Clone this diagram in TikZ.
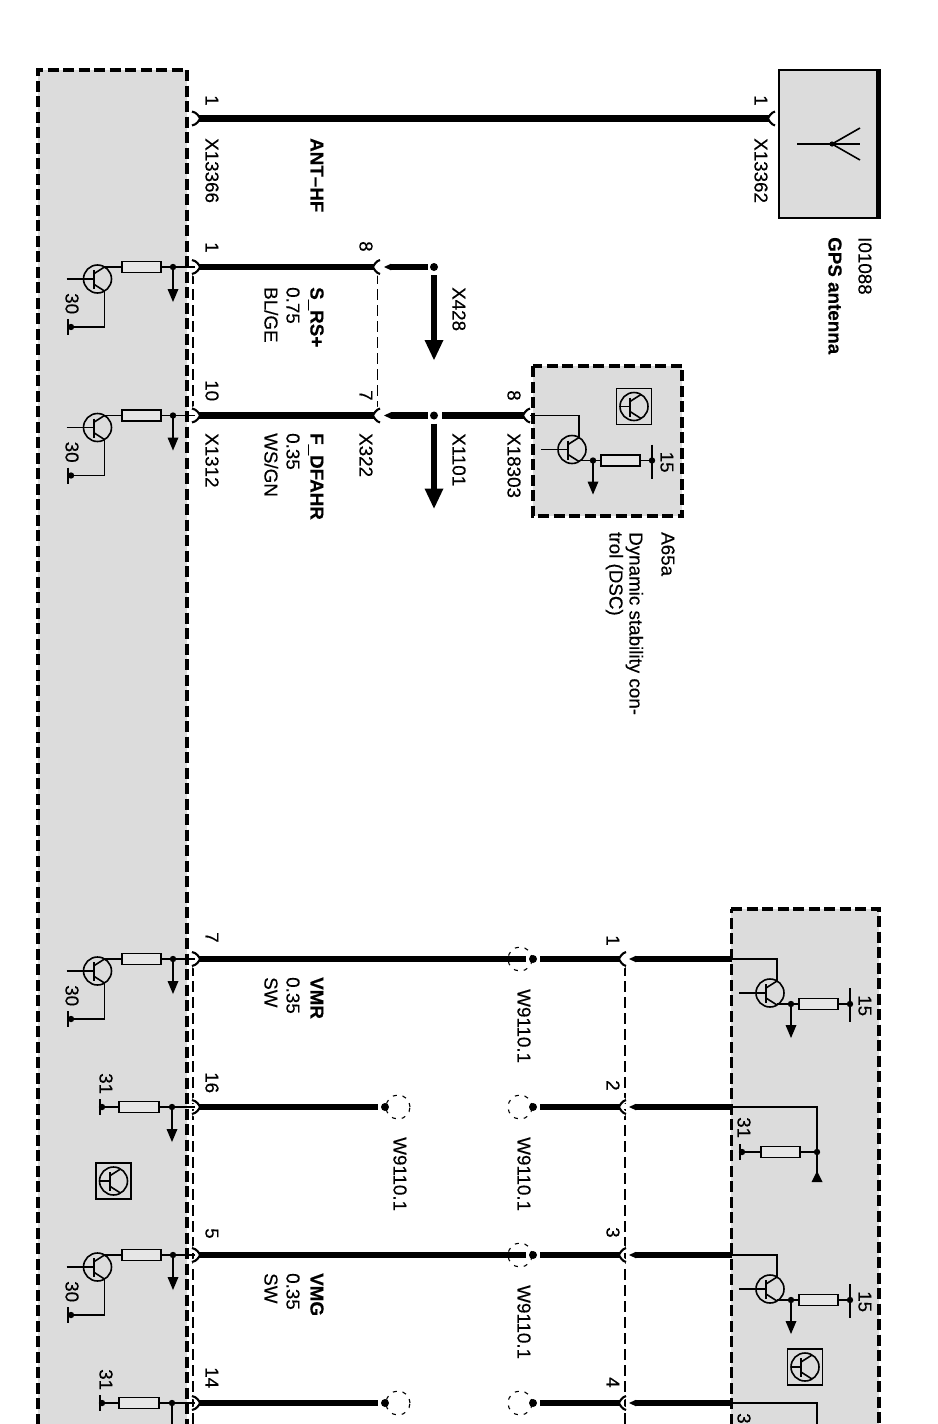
\documentclass[tikz,border=0pt]{standalone}
\usepackage{fontspec}
\setmainfont[FakeBold=0.35]{Liberation Sans}
\definecolor{boxgray}{HTML}{DCDCDC}
\definecolor{resgray}{HTML}{E6E6E6}
\newcounter{lblc}
\tikzset{
  thinw/.style={line width=1.6pt,black},
  wire/.style={line width=6.5pt,black},
  linkdash/.style={line width=1.4pt,black,dash pattern=on 11pt off 5pt},
  boxdash/.style={line width=3.8pt,black,dash pattern=on 11pt off 4.5pt},
  splice/.style={line width=1.1pt,black,dash pattern=on 4pt off 6pt},
  res/.style={line width=1.8pt,black,fill=resgray},
  lab/.style={anchor=base west,inner sep=0pt,rotate=-90,font=\fontsize{18.8}{22}\selectfont,text=black}
}
% label: left x (baseline), top y, text
\newcommand\lbl[3]{\stepcounter{lblc}\node[lab] (lbl\thelblc) at (#1+1.5,#2) {#3};}
\newcommand\jd[1]{\fill[black] (#1) circle (3.2pt);}
% connector opening to the left (on the left device)
\newcommand\forkL[2]{\begin{scope}[shift={(#1,#2)}]
  \draw[white,line width=5pt] (-8,-7) .. controls (-3,-6) and (-1,-2) .. (0,0) .. controls (-1,2) and (-3,6) .. (-8,7);
  \draw[line width=2.1pt] (-8,-7) .. controls (-3,-6) and (-1,-2) .. (0,0) .. controls (-1,2) and (-3,6) .. (-8,7);
\end{scope}}
% connector opening to the right
\newcommand\forkR[2]{\begin{scope}[shift={(#1,#2)}]
  \draw[white,line width=5pt] (7,-7) .. controls (3,-6) and (1,-2) .. (0,0) .. controls (1,2) and (3,6) .. (7,7);
  \draw[line width=2.1pt] (7,-7) .. controls (3,-6) and (1,-2) .. (0,0) .. controls (1,2) and (3,6) .. (7,7);
\end{scope}}
% tapered start of a wire
\newcommand\taper[2]{\fill[black] (#1,#2) -- (#1+7,#2-3.25) -- (#1+7,#2+3.25) -- cycle;}
\newcommand\headdn[2]{\fill[black] (#1,#2) -- (#1-5.5,#2-13) -- (#1+5.5,#2-13) -- cycle;}
% transistor core: circle centred at 0,0 with base, bar, collector, emitter
\newcommand\tcore[1]{%
  \draw[thinw] (0,0) circle (14pt);
  \draw[thinw] (-#1,0) -- (-4,0);
  \draw[line width=2pt] (-4,-9) -- (-4,10);
  \draw[thinw] (-4,-5) -- (7,-12);
  \draw[thinw] (-4,5) -- (7,12);
}
% left device: wire row #1, transistor to supply 30
\newcommand\leftTrans[2]{\begin{scope}[shift={(0,#1)}]
  \coordinate (#2p) at (195,0);
  \coordinate (#2j) at (173,0);
  \coordinate (#2r) at (161,0);
  \coordinate (#2l) at (122,0);
  \coordinate (#2c) at (104,0);
  \coordinate (#2t) at (71,60);
  \draw[thinw] (#2p) -- (#2j) -- (#2r);
  \draw[res] (122,-5.5) rectangle (161,5.5);
  \draw[thinw] (#2l) -- (#2c);
  \begin{scope}[shift={(97.5,12)}]\tcore{31}\end{scope}
  \draw[thinw] (104.5,24) -- (104.5,60) -- (#2t);
  \jd{#2j}
  \draw[thinw] (#2j) -- (173,24);
  \headdn{173}{35}
  \jd{#2t}
  \draw[line width=2pt] (68,52) -- (68,68);
  \lbl{64}{26}{30}
\end{scope}}
% left device: wire row #1, resistor to supply 31
\newcommand\leftRes[2]{\begin{scope}[shift={(0,#1)}]
  \coordinate (#2p) at (195,0);
  \coordinate (#2j) at (172,0);
  \coordinate (#2t) at (102,0);
  \draw[thinw] (#2p) -- (#2j) -- (#2t);
  \draw[res] (119,-5.5) rectangle (159,5.5);
  \jd{#2j}
  \draw[thinw] (#2j) -- (172,24);
  \headdn{172}{35}
  \jd{#2t}
  \draw[line width=2pt] (100,-8) -- (100,8);
  \lbl{98}{-34}{31}
\end{scope}}
% right-hand transistor: #1 corner x of collector, #2 wire y, #3 x of wire entry
\newcommand\rightTrans[4]{\begin{scope}[shift={(#1,#2)}]
  \coordinate (#4e) at (#3,0);
  \coordinate (#4k) at (7,0);
  \draw[thinw] (#4e) -- (#4k) -- (7,22);
  \draw[line width=2.6pt] (7,14) -- (7,22);
  \begin{scope}[shift={(0,34)}]\tcore{31}\end{scope}
  \coordinate (#4o) at (7,45);
  \coordinate (#4j) at (21,45);
  \coordinate (#4s) at (80,45);
  \draw[thinw] (#4o) -- (#4j) -- (#4s);
  \draw[res] (29,39.5) rectangle (68,50.5);
  \jd{#4j}
  \draw[thinw] (#4j) -- (21,68);
  \headdn{21}{79}
  \jd{#4s}
  \draw[line width=1.8pt] (80,29) -- (80,63);
  \lbl{87}{36}{15}
\end{scope}}
% boxed transistor symbol
\newcommand\symb[2]{\begin{scope}[shift={(#1,#2)}]
  \draw[line width=1.9pt] (-17.5,-18) rectangle (17.5,18);
  \begin{scope}[shift={(0,0)}]\tcore{14}\end{scope}
\end{scope}}
% long arrow below a splice dot
\newcommand\bigarrow[2]{\draw[line width=5.5pt] (#1,#2+8) -- (#1,#2+76);
  \fill[black] (#1,#2+93) -- (#1-9.5,#2+73) -- (#1+9.5,#2+73) -- cycle;}
\begin{document}
\begin{tikzpicture}[x=1pt,y=-1pt]
\clip (0,0) rectangle (937,1424);
\fill[white] (0,0) rectangle (937,1424);

% ---- shaded devices
\fill[boxgray] (38,70) rectangle (187,1440);
\draw[boxdash] (38,1440) -- (38,70) -- (187,70) -- (187,1440);
\fill[boxgray] (731,909) rectangle (879,1440);
\draw[boxdash,line width=3pt] (731,1440) -- (731,909);
\draw[boxdash] (731,909) -- (879,909) -- (879,1440);
\fill[boxgray] (533,366) rectangle (682,516);
\draw[boxdash] (533,366) rectangle (682,516);
\fill[boxgray] (779,70) rectangle (879,218);
\draw[line width=2.8pt] (779,70) rectangle (879,218);
\draw[line width=5pt] (878,69) -- (878,219);

% ---- link lines between connector pins
\draw[linkdash] (193,273) -- (193,410);
\draw[linkdash] (193,965) -- (193,1440);
\draw[linkdash] (377.5,273) -- (377.5,410);
\draw[linkdash] (625,965) -- (625,1440);

% ---- named wire points
\coordinate (a1) at (199,118.5); \coordinate (a2) at (769,118.5);
\coordinate (b1) at (199,267);   \coordinate (b2) at (374,267);
\coordinate (b3) at (391,267);   \coordinate (b4) at (428,267);
\coordinate (c1) at (199,415.5); \coordinate (c2) at (374,415.5);
\coordinate (c3) at (391,415.5); \coordinate (c4) at (428,415.5);
\coordinate (c5) at (442,415.5); \coordinate (c6) at (524,415.5);
\coordinate (d1) at (199,959);   \coordinate (d2) at (526,959);
\coordinate (d3) at (540,959);   \coordinate (d4) at (620,959);
\coordinate (d5) at (636,959);   \coordinate (d6) at (732,959);
\coordinate (e1) at (199,1107);  \coordinate (e2) at (378,1107);
\coordinate (e3) at (540,1107);  \coordinate (e4) at (620,1107);
\coordinate (e5) at (636,1107);  \coordinate (e6) at (732,1107);
\coordinate (f1) at (199,1255);  \coordinate (f2) at (526,1255);
\coordinate (f3) at (540,1255);  \coordinate (f4) at (620,1255);
\coordinate (f5) at (636,1255);  \coordinate (f6) at (732,1255);
\coordinate (g1) at (199,1403);  \coordinate (g2) at (378,1403);
\coordinate (g3) at (540,1403);  \coordinate (g4) at (620,1403);
\coordinate (g5) at (636,1403);  \coordinate (g6) at (732,1403);

% ---- splice circles (under the wires)
\draw[splice] (520,959) circle (12pt);
\draw[splice] (520,1107) circle (12pt);
\draw[splice] (520,1255) circle (12pt);
\draw[splice] (520,1403) circle (12pt);
\draw[splice] (398,1107) circle (12pt);
\draw[splice] (398,1403) circle (12pt);

% ---- left device internals
\leftTrans{267}{lb}
\leftTrans{415.5}{lc}
\leftTrans{959}{ld}
\leftRes{1107}{le}
\leftTrans{1255}{lf}
\leftRes{1403}{lg}
\symb{113.5}{1181}

% ---- connectors
\forkL{200}{118.5} \forkL{200}{267} \forkL{200}{415.5}
\forkL{200}{959} \forkL{200}{1107} \forkL{200}{1255} \forkL{200}{1403}
\forkR{373}{267} \forkR{373}{415.5}
\forkR{619}{959} \forkR{619}{1107} \forkR{619}{1255} \forkR{619}{1403}
\forkR{768}{118.5}
\forkR{523}{415.5}

% ---- thick wires
\draw[wire] (a1) -- (a2);
\draw[wire] (b1) -- (b2);
\draw[wire] (b3) -- (b4);
\draw[wire] (c1) -- (c2);
\draw[wire] (c3) -- (c4);
\draw[wire] (c5) -- (c6);
\draw[wire] (d1) -- (d2);
\draw[wire] (d3) -- (d4);
\draw[wire] (d5) -- (d6);
\draw[wire] (e1) -- (e2);
\draw[wire] (e3) -- (e4);
\draw[wire] (e5) -- (e6);
\draw[wire] (f1) -- (f2);
\draw[wire] (f3) -- (f4);
\draw[wire] (f5) -- (f6);
\draw[wire] (g1) -- (g2);
\draw[wire] (g3) -- (g4);
\draw[wire] (g5) -- (g6);
\taper{384}{267} \taper{384}{415.5}
\taper{629}{959} \taper{629}{1107} \taper{629}{1255} \taper{629}{1403}

% ---- splice dots
\coordinate (s1) at (434,267); \coordinate (s2) at (434,415.5);
\coordinate (s3) at (533,959); \coordinate (s4) at (533,1107);
\coordinate (s5) at (533,1255); \coordinate (s6) at (533,1403);
\coordinate (s7) at (385,1107); \coordinate (s8) at (385,1403);
\foreach \s in {s1,s2,s3,s4,s5,s6,s7,s8} {\fill[black] (\s) circle (4pt);}
\bigarrow{434}{267}
\bigarrow{434}{415.5}

% ---- right device internals
\rightTrans{770}{959}{-39}{ra}
\rightTrans{770}{1255}{-39}{rb}
\rightTrans{572}{415.5}{-42}{rc}
\symb{805}{1367}
\symb{634}{406.5}

% wire 2: pull-up resistor to 31
\coordinate (h1) at (732,1107); \coordinate (h2) at (817,1107);
\coordinate (h3) at (817,1152); \coordinate (h4) at (742,1152);
\draw[thinw,line width=1.9pt] (h1) -- (h2) -- (h3) -- (817,1175);
\draw[thinw] (h3) -- (h4);
\draw[res] (761,1146.5) rectangle (800,1157.5);
\jd{h3} \jd{h4}
\draw[line width=1.8pt] (740,1144) -- (740,1160);
\fill[black] (817,1171) -- (811.5,1182) -- (822.5,1182) -- cycle;
% wire 4
\coordinate (h5) at (732,1403); \coordinate (h6) at (817,1403);
\draw[thinw,line width=1.9pt] (h5) -- (h6) -- (817,1440);

% ---- antenna
\coordinate (an1) at (797,144); \coordinate (an2) at (860,144);
\coordinate (an3) at (832,144); \coordinate (an4) at (860,128);
\coordinate (an5) at (860,160);
\draw[thinw] (an1) -- (an2);
\draw[thinw] (an3) -- (an4);
\draw[thinw] (an3) -- (an5);
\fill[black] (an3) circle (2.6pt);

% ---- texts: left pins
\lbl{204}{95}{1}
\lbl{204}{138}{X13366}
\lbl{204}{242}{1}
\lbl{204}{380}{10}
\lbl{204}{433}{X1312}
\lbl{204}{932}{7}
\lbl{204}{1072}{16}
\lbl{204}{1228}{5}
\lbl{204}{1367}{14}
% signals
\lbl{309}{138}{\textbf{ANT–HF}}
\lbl{309}{287}{\textbf{S\_RS+}}
\lbl{285}{287}{0.75}
\lbl{263}{287}{BL/GE}
\lbl{309}{433}{\textbf{F\_DFAHR}}
\lbl{285}{433}{0.35}
\lbl{263}{433}{WS/GN}
\lbl{309}{977}{\textbf{VMR}}
\lbl{285}{977}{0.35}
\lbl{263}{977}{SW}
\lbl{309}{1273}{\textbf{VMG}}
\lbl{285}{1273}{0.35}
\lbl{263}{1273}{SW}
% middle
\lbl{358}{241}{8}
\lbl{358}{390}{7}
\lbl{358}{433}{X322}
\lbl{451}{287}{X428}
\lbl{451}{433}{X1101}
\lbl{506}{390}{8}
\lbl{506}{433}{X18303}
\lbl{660}{532}{A65a}
\lbl{628}{532}{Dynamic stability con-}
\lbl{608}{532}{trol (DSC)}
\lbl{857}{237}{I01088}
\lbl{827}{237}{\textbf{GPS antenna}}
\lbl{753}{95}{1}
\lbl{753}{138}{X13362}
\lbl{605}{935}{1}
\lbl{605}{1080}{2}
\lbl{605}{1227}{3}
\lbl{605}{1377}{4}
\lbl{516}{989}{W9110.1}
\lbl{516}{1137}{W9110.1}
\lbl{516}{1285}{W9110.1}
\lbl{392}{1137}{W9110.1}
\lbl{736}{1117}{31}
\lbl{736}{1413}{3}
\end{tikzpicture}
\end{document}
